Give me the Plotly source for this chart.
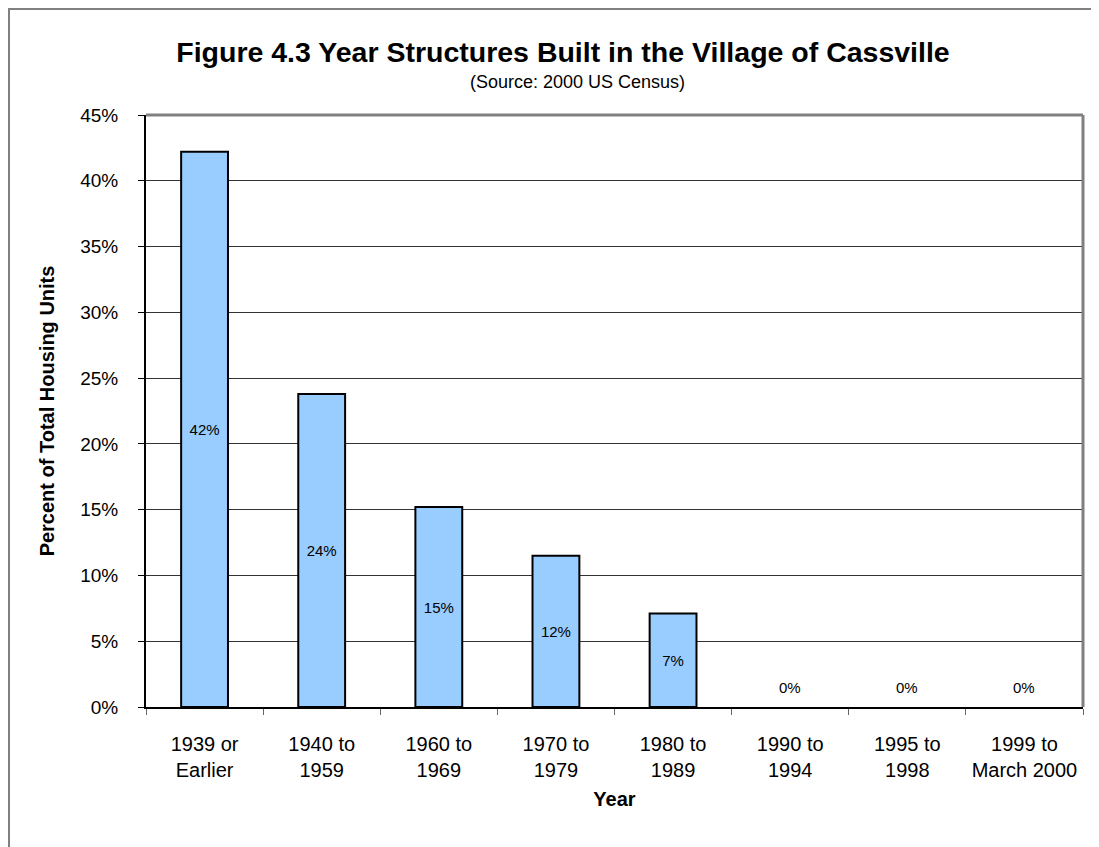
import plotly.graph_objects as go

categories = ["1939 or<br>Earlier", "1940 to<br>1959", "1960 to<br>1969", "1970 to<br>1979",
              "1980 to<br>1989", "1990 to<br>1994", "1995 to<br>1998", "1999 to<br>March 2000"]
values = [42.2, 23.8, 15.2, 11.5, 7.1, 0.0, 0.0, 0.0]
y_ticks = [0, 5, 10, 15, 20, 25, 30, 35, 40, 45]
y_tick_labels = [f"{v}%" for v in y_ticks]

FONT = "Liberation Sans, Arial, sans-serif"

labels = [f"{round(v)}%" for v in values]
fig = go.Figure()
fig.add_trace(go.Bar(
    x=categories, y=values,
    marker=dict(color="#99CCFF",
                line=dict(color="black", width=[2 if v > 0 else 0 for v in values])),
    width=0.4,
    text=[l if v > 0 else "" for l, v in zip(labels, values)],
    textposition="inside", insidetextanchor="middle",
    textfont=dict(family=FONT, size=15, color="black"),
    textangle=0, cliponaxis=False, showlegend=False, hoverinfo="skip",
))

# zero-value labels above the axis
for c, v, l in zip(categories, values, labels):
    if v == 0:
        fig.add_annotation(x=c, y=v, text=l, showarrow=False, yshift=20, yanchor="middle",
                           font=dict(family=FONT, size=15, color="black"))

fig.update_layout(
    width=1091, height=839,
    margin=dict(l=138, r=16, t=107, b=140),
    paper_bgcolor="white", plot_bgcolor="white",
    title=dict(text="<b>Figure 4.3 Year Structures Built in the Village of Cassville</b>",
               x=0.5087, xanchor="center", y=0.9476, yanchor="middle",
               font=dict(family=FONT, size=28.5, color="black")),
    xaxis=dict(
        showline=True, linecolor="black", linewidth=2,
        ticks="outside", ticklen=6, tickcolor="#666", tickson="boundaries",
        ticklabelstandoff=18,
        tickfont=dict(family=FONT, size=20, color="black"),
        title=dict(text="<b>Year</b>", font=dict(family=FONT, size=20, color="black"), standoff=12),
        range=[-0.5, 7.5],
    ),
    yaxis=dict(
        range=[0, 45], tickvals=y_ticks, ticktext=y_tick_labels,
        showline=True, linecolor="black", linewidth=2,
        ticks="outside", ticklen=6, tickcolor="black",
        ticklabelstandoff=16,
        showgrid=True, gridcolor="#333", gridwidth=1,
        tickfont=dict(family=FONT, size=19, color="black"),
        title=dict(text="<b>Percent of Total Housing Units</b>",
                   font=dict(family=FONT, size=20, color="black"), standoff=20),
        zeroline=False,
    ),
    bargap=0.6,
)

fig.add_annotation(text="(Source: 2000 US Census)", xref="paper", yref="paper",
                   x=0.461, y=1.0557, showarrow=False, xanchor="center", yanchor="middle",
                   font=dict(family=FONT, size=18, color="black"))

# plot-area border (top / right gray)
fig.add_shape(type="line", xref="paper", yref="paper", x0=0, x1=1, y0=1, y1=1,
              line=dict(color="#808080", width=3))
fig.add_shape(type="line", xref="paper", yref="paper", x0=1, x1=1, y0=0, y1=1,
              line=dict(color="#808080", width=3))
# outer chart border
fig.add_shape(type="rect", xref="paper", yref="paper",
              x0=-0.1462, x1=1.2, y0=-0.4, y1=1.1791,
              line=dict(color="#808080", width=2), layer="below")

fig.write_html("out.html")
